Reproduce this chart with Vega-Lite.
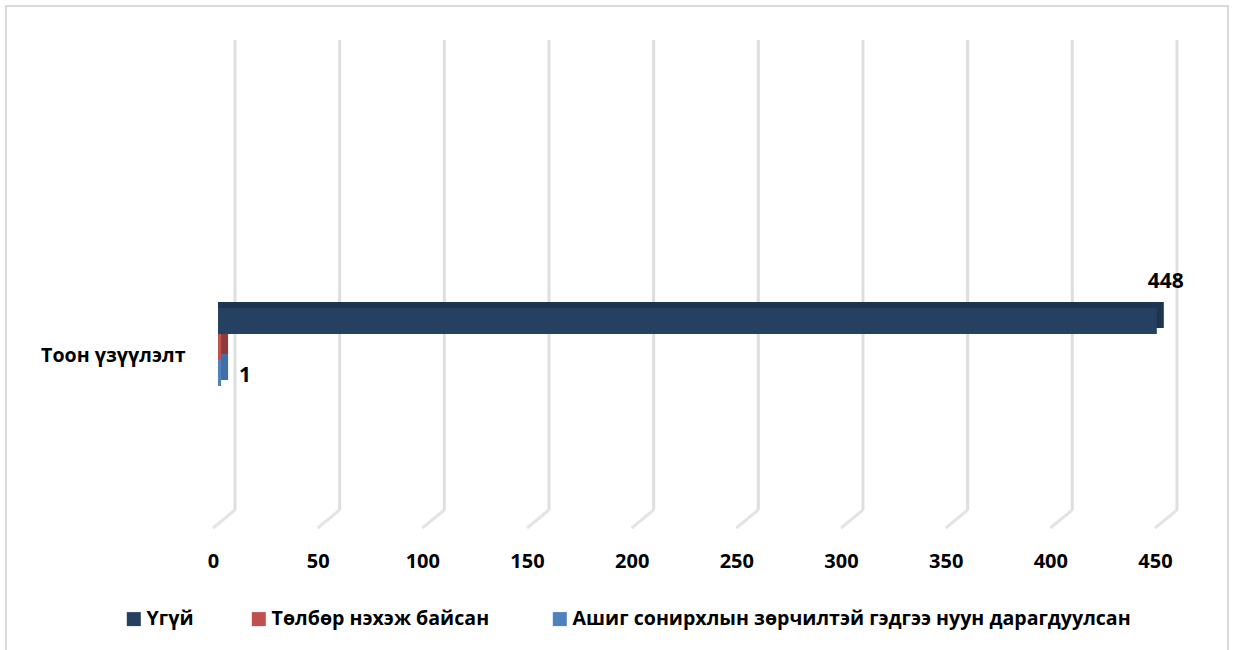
{
"$schema":"https://vega.github.io/schema/vega-lite/v6.json",
"autosize":"none","width":1222,"height":650,
"padding":{"left":6,"top":6,"right":6,"bottom":0},
"background":"white",
"view":{"stroke":"#d9d9d9","strokeWidth":2,"fill":null},
"config":{"axis":{"domain":false,"ticks":false,"grid":false,"labelFont":"Open Sans","labelFontWeight":"bold","labelColor":"#000000"},"font":"Open Sans"},
"datasets":{
"bars":[{"cat":"Тоон үзүүлэлт","series":"Үгүй","value":448},{"cat":"Тоон үзүүлэлт","series":"Төлбөр  нэхэж байсан","value":1},{"cat":"Тоон үзүүлэлт","series":"Ашиг сонирхлын зөрчилтэй гэдгээ нуун дарагдуулсан","value":1}],
"grid":[{"tick":0,"back":10.5,"front_z":0,"back_z":1,"top_z":27.1},{"tick":50,"back":60.5,"front_z":0,"back_z":1,"top_z":27.1},{"tick":100,"back":110.5,"front_z":0,"back_z":1,"top_z":27.1},{"tick":150,"back":160.5,"front_z":0,"back_z":1,"top_z":27.1},{"tick":200,"back":210.5,"front_z":0,"back_z":1,"top_z":27.1},{"tick":250,"back":260.5,"front_z":0,"back_z":1,"top_z":27.1},{"tick":300,"back":310.5,"front_z":0,"back_z":1,"top_z":27.1},{"tick":350,"back":360.5,"front_z":0,"back_z":1,"top_z":27.1},{"tick":400,"back":410.5,"front_z":0,"back_z":1,"top_z":27.1},{"tick":450,"back":460.5,"front_z":0,"back_z":1,"top_z":27.1}]
},
"resolve":{"scale":{"y":"independent","color":"independent"}},
"layer":[
{"data":{"name":"grid"},"mark":{"type":"rule","color":"#e4e4e4","strokeWidth":3},
 "encoding":{"x":{"field":"tick","type":"quantitative","title":null,"scale":{"domain":[0,450],"range":[207,1149],"nice":false,"zero":false},
   "axis":{"values":[0,50,100,150,200,250,300,350,400,450],"orient":"bottom","offset":-95,"labelPadding":0,"labelFontSize":20,"labelBaseline":"middle","labelFlush":false}},
  "x2":{"field":"back"},
  "y":{"field":"front_z","type":"quantitative","axis":null,"scale":{"domain":[0,27.1],"range":[522,34],"nice":false,"zero":false}},
  "y2":{"field":"back_z"}}},
{"data":{"name":"grid"},"mark":{"type":"rule","color":"#dedede","strokeWidth":3},
 "encoding":{"x":{"field":"back","type":"quantitative","title":null},
  "y":{"field":"back_z","type":"quantitative","axis":null,"scale":{"domain":[0,27.1],"range":[522,34],"nice":false,"zero":false}},
  "y2":{"field":"top_z"}}},
{"data":{"name":"bars"},"mark":{"type":"bar","xOffset":13,"x2Offset":5},
 "encoding":{"x":{"field":"value","type":"quantitative","title":null},"x2":{"datum":0},
  "y":{"field":"cat","type":"nominal","axis":null,"scale":{"range":[296,374],"paddingInner":0,"paddingOuter":0}},
  "yOffset":{"field":"series","type":"nominal","sort":null,"scale":{"paddingInner":0,"paddingOuter":0}},
  "color":{"field":"series","type":"nominal","sort":null,"legend":null,"scale":{"domain":["Үгүй","Төлбөр  нэхэж байсан","Ашиг сонирхлын зөрчилтэй гэдгээ нуун дарагдуулсан"],"range":["#1e3552","#8e3a3a","#3f6ea8"]}}}},
{"data":{"name":"bars"},"mark":{"type":"bar","xOffset":6,"x2Offset":5},
 "encoding":{"x":{"field":"value","type":"quantitative","title":null},"x2":{"datum":0},
  "y":{"field":"cat","type":"nominal","title":null,"scale":{"range":[302,380],"paddingInner":0,"paddingOuter":0},
    "axis":{"offset":-179,"labelPadding":0,"labelFontSize":19.6,"labelOffset":9,"labelAngle":0}},
  "yOffset":{"field":"series","type":"nominal","sort":null,"scale":{"paddingInner":0,"paddingOuter":0}},
  "color":{"field":"series","type":"nominal","sort":null,"scale":{"domain":["Үгүй","Төлбөр  нэхэж байсан","Ашиг сонирхлын зөрчилтэй гэдгээ нуун дарагдуулсан"],"range":["#254061","#c0504d","#4f81bd"]},
   "legend":{"title":null,"orient":"none","legendX":118,"legendY":603,"direction":"horizontal","columns":3,"columnPadding":55,"symbolType":"square","symbolSize":196,"symbolStrokeWidth":0,"symbolOpacity":1,"labelFont":"Open Sans","labelFontWeight":"bold","labelFontSize":19.6,"labelColor":"#000000","labelOffset":3,"labelLimit":700}}}},
{"data":{"name":"bars"},"transform":[{"filter":"datum.value == 448"}],"mark":{"type":"text","fontWeight":"bold","fontSize":21,"color":"#000000","xOffset":15},
 "encoding":{"x":{"field":"value","type":"quantitative","title":null},
  "y":{"field":"cat","type":"nominal","axis":null,"scale":{"range":[263,341],"paddingInner":0,"paddingOuter":0}},
  "yOffset":{"field":"series","type":"nominal","sort":null,"scale":{"paddingInner":0,"paddingOuter":0}},
  "text":{"field":"value","type":"quantitative"}}},
{"data":{"name":"bars"},"transform":[{"filter":"datum.series == 'Ашиг сонирхлын зөрчилтэй гэдгээ нуун дарагдуулсан'"}],"mark":{"type":"text","fontWeight":"bold","fontSize":21,"color":"#000000","xOffset":30},
 "encoding":{"x":{"field":"value","type":"quantitative","title":null},
  "y":{"field":"cat","type":"nominal","axis":null,"scale":{"range":[305,383],"paddingInner":0,"paddingOuter":0}},
  "yOffset":{"field":"series","type":"nominal","sort":null,"scale":{"paddingInner":0,"paddingOuter":0}},
  "text":{"field":"value","type":"quantitative"}}}
]
}
